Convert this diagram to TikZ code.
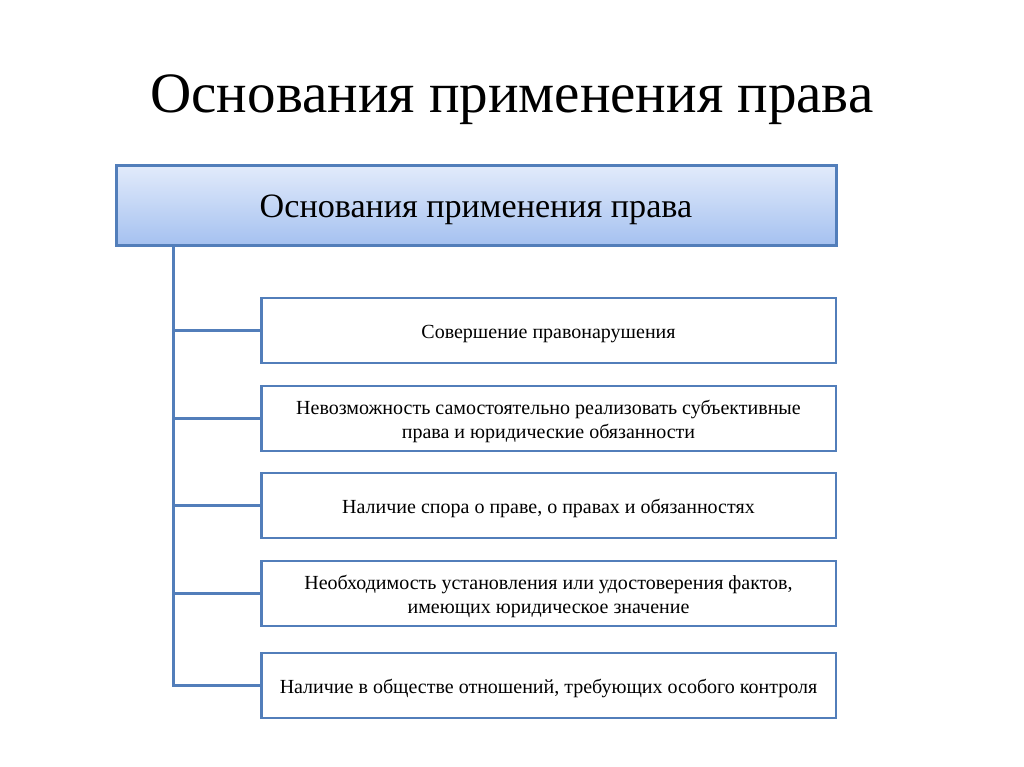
\documentclass[tikz,border=0pt]{standalone}
\usepackage{fontspec}
\setmainfont{Liberation Serif}
\usetikzlibrary{shadows}

\definecolor{lineblue}{RGB}{82,126,186}
\definecolor{topfill}{RGB}{226,235,251}
\definecolor{botfill}{RGB}{165,193,240}

\tikzset{
  headbox/.style={draw=lineblue, line width=2.25pt, top color=topfill, bottom color=botfill,
    minimum width=540pt, minimum height=60pt, inner sep=0pt,
    text height=22pt, text depth=4pt,
    drop shadow={shadow xshift=1.2pt, shadow yshift=-1.5pt, opacity=0.35},
    font=\fontsize{25.6}{30}\selectfont},
  itembox/.style={draw=lineblue, line width=2pt, fill=white,
    minimum width=431pt, minimum height=48.75pt, inner sep=0pt, align=center,
    text height=13pt, text depth=1.75pt,
    font=\fontsize{15}{17.5}\selectfont},
  twoline/.style={text height=31.5pt, text depth=2.25pt},
  link/.style={draw=lineblue, line width=2.25pt}
}

\begin{document}
\begin{tikzpicture}[x=0.75pt,y=0.75pt,yscale=-1,xscale=1]
\useasboundingbox (0,0) rectangle (1024,767);
\fill[white] (0,0) rectangle (1024,767);

% Title
\node [anchor=base, font=\fontsize{42.8}{50}\selectfont] (title) at (512,113) {Основания применения права};

% Head box
\node [headbox] (root) at (476,205) {Основания применения права};

% Item boxes
\node [itembox] (b1) at (548.5,330.5) {Совершение правонарушения};
\node [itembox, twoline] (b2) at (548.5,418.5) {Невозможность самостоятельно реализовать субъективные\\права и юридические обязанности};
\node [itembox] (b3) at (548.5,505.5) {Наличие спора о праве, о правах и обязанностях};
\node [itembox, twoline] (b4) at (548.5,593.5) {Необходимость установления или удостоверения фактов,\\имеющих юридическое значение};
\node [itembox] (b5) at (548.5,685.5) {Наличие в обществе отношений, требующих особого контроля};

% Connectors
\coordinate (trunk) at (173,245);
\draw [link] (trunk) |- (b5.west);
\foreach \b in {b1,b2,b3,b4}
  \draw [link] (trunk |- \b.west) -- (\b.west);
\end{tikzpicture}
\end{document}
